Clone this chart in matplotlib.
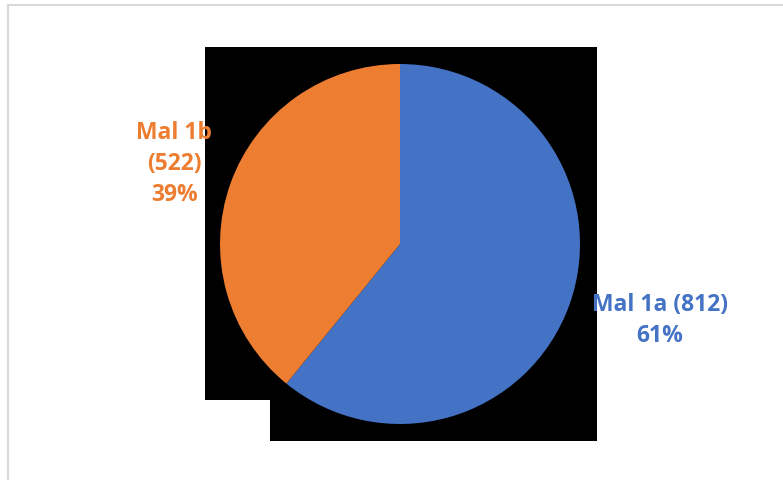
import numpy as np
import matplotlib.pyplot as plt
from matplotlib.patches import Polygon, Rectangle

labels = ["Mal 1a (812)\n61%", "Mal 1b\n(522)\n39%"]
counts = [812, 522]
colors = ["#4472C4", "#ED7D31"]
label_dist = [1.506, 1.33]
label_shift = [3.2, 0.0]   # degrees, nudges the label off the mid angle

W, H = 783, 480
fig = plt.figure(figsize=(W / 100, H / 100), dpi=100)

# pie centre (400, 244) px, radius 180 px
cx, cy, r = 400, 244, 180
ax = fig.add_axes([(cx - r) / W, (H - cy - r) / H, 2 * r / W, 2 * r / H])
ax.set_facecolor("none")

def px(x, y):
    return (x / W, 1 - y / H)

# black backdrop behind the pie (as in the source image)
blk = [px(205, 47), px(597, 47), px(597, 441), px(270, 441), px(270, 400), px(205, 400)]
fig.add_artist(Polygon(blk, closed=True, facecolor="black", edgecolor="none",
                       transform=fig.transFigure, zorder=-5))
# thin grey frame (only left and top edges visible)
fig.add_artist(Rectangle((8 / W, -0.5), 2, 1.5 - 5 / H, facecolor="none",
                         edgecolor="#d9d9d9", linewidth=1.5,
                         transform=fig.transFigure, zorder=-6))

wedges, texts = ax.pie(counts, colors=colors, startangle=90, counterclock=False,
                       radius=1, labels=labels,
                       wedgeprops=dict(linewidth=0.5, edgecolor="none"))
for i, (w, t) in enumerate(zip(wedges, texts)):
    ang = np.deg2rad((w.theta1 + w.theta2) / 2 + label_shift[i])
    t.set_position((label_dist[i] * np.cos(ang), label_dist[i] * np.sin(ang)))
    t.set_ha("center")
    t.set_va("center")
    t.set_color(colors[i])
    t.set_fontsize(16.5)
    t.set_fontweight("bold")
    t.set_family(["Open Sans", "DejaVu Sans"])
    t.set_linespacing(1.4)

ax.set_xlim(-1, 1)
ax.set_ylim(-1, 1)
ax.set_aspect("auto")
ax.axis("off")

fig.savefig("out.png", dpi=100, facecolor="white")
